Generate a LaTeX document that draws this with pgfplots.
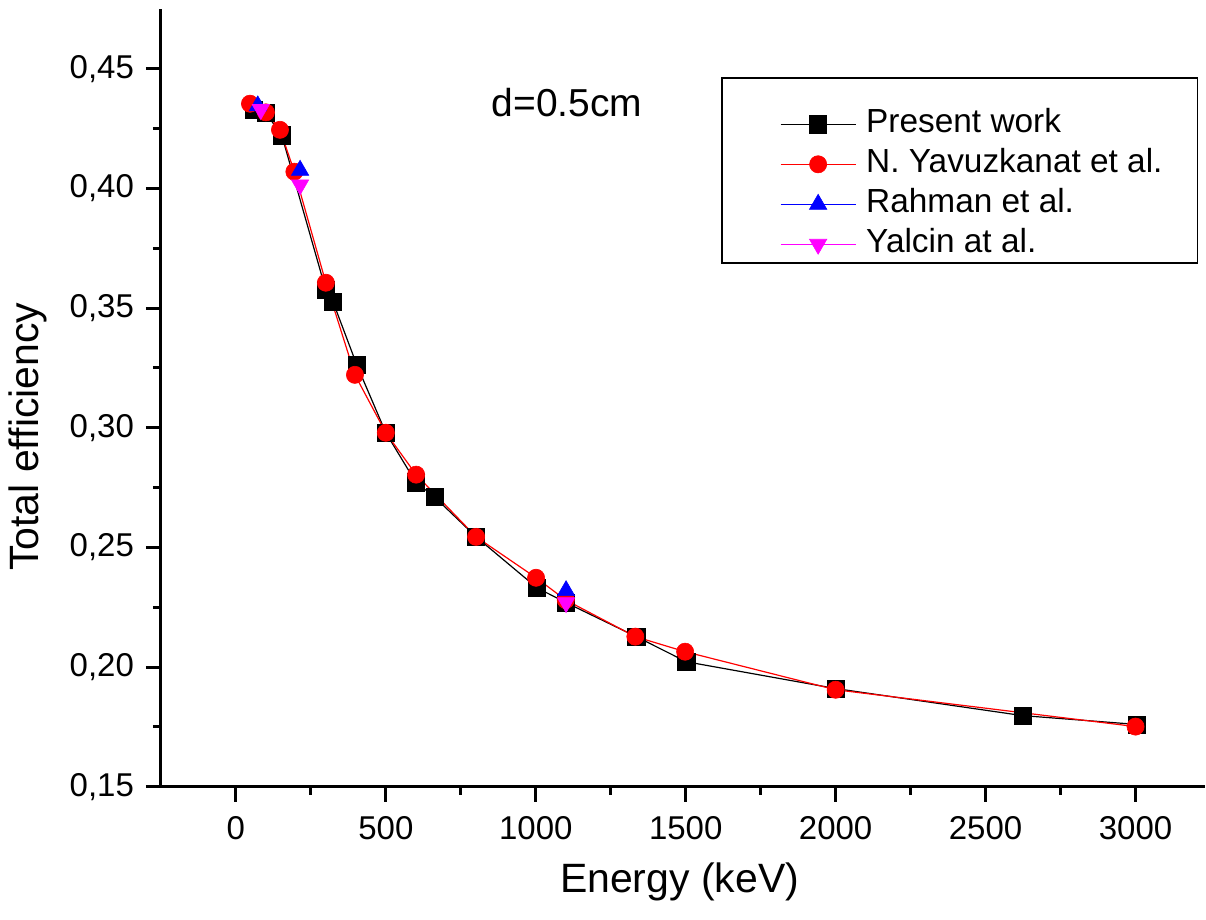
\documentclass[border=0pt]{standalone}
\usepackage{fontspec}
\setmainfont{Liberation Sans}
\usepackage{pgfplots}
\pgfplotsset{compat=1.18}
\usetikzlibrary{calc}
\definecolor{cred}{RGB}{255,0,0}
\definecolor{cblue}{RGB}{0,0,255}
\definecolor{cmag}{RGB}{255,0,255}
\begin{document}
\begin{tikzpicture}
\begin{axis}[
  name=ax,
  scale only axis,
  width=522pt, height=389pt,
  xmin=-250, xmax=3230,
  ymin=0.15, ymax=0.475,
  axis x line*=bottom, axis y line*=left,
  axis line style={line width=1.5pt, -},
  every tick/.style={black, line width=1.5pt},
  tick align=outside,
  xtick pos=bottom, ytick pos=left,
  major tick length=7.5pt, minor tick length=4pt,
  minor tick num=1,
  xtick={0,500,...,3000},
  ytick={0.15,0.20,0.25,0.30,0.35,0.40,0.45},
  /pgf/number format/assume math mode=true,
  xticklabel style={font=\fontsize{16.5}{19}\selectfont, yshift=-4pt, /pgf/number format/1000 sep={}},
  yticklabel style={font=\fontsize{16.5}{19}\selectfont, xshift=-2.5pt, /pgf/number format/.cd, use comma, fixed, fixed zerofill, precision=2},
  xlabel={Energy (keV)},
  ylabel={Total efficiency},
  label style={font=\fontsize{20.5}{24}\selectfont},
  xlabel style={at={(axis description cs:0.497,-0.122)}, anchor=center},
  ylabel style={at={(axis description cs:-0.127,0.45)}, anchor=center, rotate=0},
  clip=false,
  legend cell align=left,
  legend image code/.code={
    \draw[mark repeat=2,mark phase=2,#1] plot coordinates {(0pt,0pt)(18.75pt,0pt)(37.5pt,0pt)};
  },
  legend style={at={(0.5929,0.8715)}, anchor=north west, draw=none, fill=none,
    font=\fontsize{16.7}{20}\selectfont, inner xsep=0pt, inner ysep=0pt,
    row sep=5pt, column sep=5pt,
    nodes={inner sep=0pt, text height=11.5pt, text depth=3.5pt}},
]
\draw[black, line width=0.8pt] (axis description cs:0.5374,0.6735) rectangle (axis description cs:0.9933,0.9113);
\addplot[black, line width=0.6pt, mark=square*, mark size=4.3pt, mark options={solid, line width=0.3pt}] coordinates {
(60,0.4330) (100,0.4315) (153,0.4222) (300,0.3575) (324,0.3526) (403,0.3263) (500,0.2979) (600,0.2772) (662,0.2711) (801,0.2544) (1004,0.2331) (1101,0.2269) (1335,0.2127) (1502,0.2022) (2000,0.1910) (2623,0.1797) (3005,0.1760)
};
\addlegendentry{Present work}
\addplot[cred, line width=0.6pt, mark=*, mark size=4.3pt, mark options={solid, line width=0.3pt}] coordinates {
(47,0.4354) (100,0.4318) (147,0.4245) (195,0.4070) (300,0.3606) (397,0.3221) (500,0.2979) (601,0.2804) (801,0.2544) (1001,0.2373) (1100,0.2280) (1332,0.2127) (1498,0.2064) (2000,0.1905) (3000,0.1751)
};
\addlegendentry{N. Yavuzkanat et al.}
\addlegendimage{cblue, line width=0.6pt, mark=triangle*, mark size=5pt, mark options={solid, line width=0.3pt}}
\addlegendentry{Rahman et al.}
\addlegendimage{cmag, line width=0.6pt, mark=triangle*, mark size=5pt, mark options={solid, rotate=180, line width=0.3pt}}
\addlegendentry{Yalcin at al.}
\addplot[cblue, only marks, forget plot, mark=triangle*, mark size=5pt, mark options={line width=0.3pt}] coordinates {
(73,0.4345) (214,0.4076) (1101,0.2319)
};
\addplot[cmag, only marks, forget plot, mark=triangle*, mark size=5pt, mark options={rotate=180, line width=0.3pt}] coordinates {
(83,0.4330) (214,0.4015) (1101,0.2269)
};
\node[font=\fontsize{19.5}{23}\selectfont] at (axis cs:1104,0.4358) {d=0.5cm};
\end{axis}
\path[use as bounding box] ($(ax.south west)+(-80.5pt,-66.5pt)$) rectangle ($(ax.north east)+(0.5pt,4.5pt)$);
\end{tikzpicture}
\end{document}
